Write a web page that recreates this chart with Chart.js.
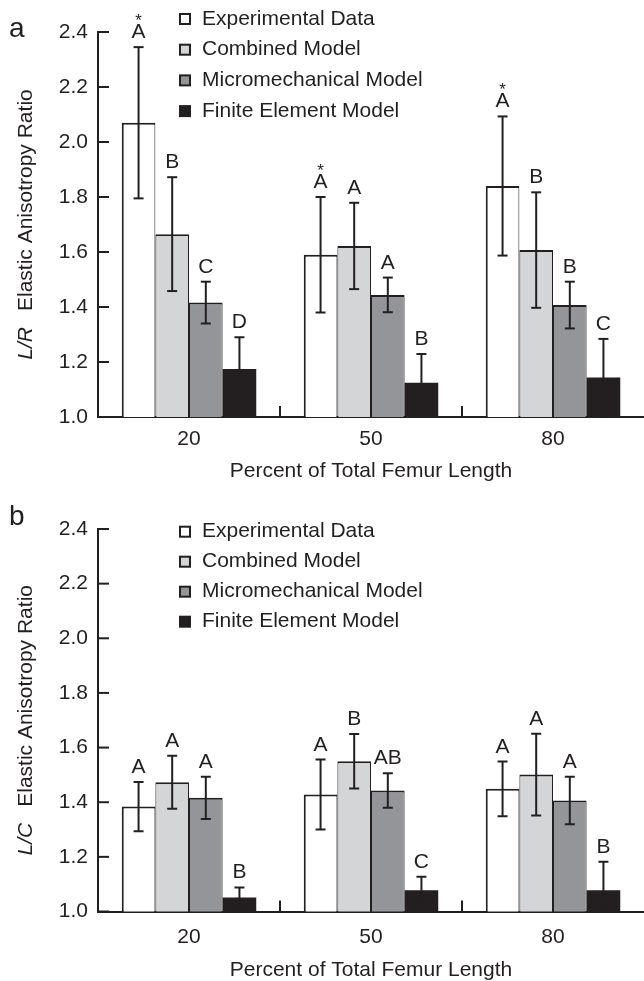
<!DOCTYPE html>
<html lang="en">
<head>
  <meta charset="UTF-8" />
  <title>Elastic Anisotropy Ratio by Femur Location</title>
  <script src="https://cdn.jsdelivr.net/npm/chart.js"></script>
  <style>
    * { margin: 0; padding: 0; box-sizing: border-box; }
    body { background: #fff; width: 644px; overflow: hidden; }
    canvas { display: block; }
  </style>
</head>
<body>
  <canvas id="chartLR" width="644" height="490"></canvas>
  <canvas id="chartLC" width="644" height="495"></canvas>

  <script>
    // ---- data ----
    const categories = ['20', '50', '80'];
    const seriesNames = ['Experimental Data', 'Combined Model', 'Micromechanical Model', 'Finite Element Model'];
    const yTickValues = [1.0, 1.2, 1.4, 1.6, 1.8, 2.0, 2.2, 2.4];

    // panel a: L/R
    const lrExperimental = [2.07, 1.59, 1.84];
    const lrExperimentalErr = [0.275, 0.21, 0.253];
    const lrCombined = [1.665, 1.622, 1.607];
    const lrCombinedErr = [0.207, 0.157, 0.21];
    const lrMicro = [1.416, 1.444, 1.407];
    const lrMicroErr = [0.076, 0.063, 0.085];
    const lrFE = [1.175, 1.125, 1.144];
    const lrFEErr = [0.115, 0.104, 0.14];
    const lrLetters = [['A', 'A', 'A'], ['B', 'A', 'B'], ['C', 'A', 'B'], ['D', 'B', 'C']];
    const lrStars = [true, true, true];

    // panel b: L/C
    const lcExperimental = [1.384, 1.428, 1.449];
    const lcExperimentalErr = [0.09, 0.128, 0.10];
    const lcCombined = [1.473, 1.55, 1.501];
    const lcCombinedErr = [0.097, 0.10, 0.15];
    const lcMicro = [1.416, 1.443, 1.406];
    const lcMicroErr = [0.077, 0.063, 0.087];
    const lcFE = [1.051, 1.078, 1.078];
    const lcFEErr = [0.037, 0.049, 0.104];
    const lcLetters = [['A', 'A', 'A'], ['A', 'B', 'A'], ['A', 'AB', 'A'], ['B', 'C', 'B']];

    // ---- styling ----
    const INK = '#231f20';
    const FONT = "'Liberation Sans', Arial, Helvetica, sans-serif";
    const FS = 21;
    const fills = ['#ffffff', '#d4d5d7', '#939598', INK];
    const borders = [
      { top: 2, left: 2, right: 1, bottom: 0 },
      { top: 2, left: 1, right: 1, bottom: 0 },
      { top: 2, left: 1, right: 1, bottom: 0 },
      0
    ];

    // error bars, significance letters, inward ticks, legend, axis title, panel letter
    const figurePlugin = {
      id: 'figure',
      afterDatasetsDraw(chart, args, opts) {
        const { ctx, chartArea: area, scales: { x, y } } = chart;
        const line = (x1, y1, x2, y2) => {
          ctx.beginPath(); ctx.moveTo(x1, y1); ctx.lineTo(x2, y2); ctx.stroke();
        };
        ctx.save();
        ctx.strokeStyle = INK;
        ctx.fillStyle = INK;
        ctx.lineWidth = 2;

        // error bars are cut at the axis
        ctx.save();
        ctx.beginPath();
        ctx.rect(area.left, 0, area.right - area.left, area.bottom);
        ctx.clip();
        chart.data.datasets.forEach((ds, di) => {
          chart.getDatasetMeta(di).data.forEach((bar, i) => {
            const v = ds.data[i], e = ds.errors[i];
            const yt = y.getPixelForValue(v + e);
            const yb = y.getPixelForValue(v - e);
            const cx = bar.x;
            line(cx, yt, cx, yb);
            line(cx - 5, yt, cx + 5, yt);
            line(cx - 5, yb, cx + 5, yb);

            ctx.font = `${FS}px ${FONT}`;
            ctx.textAlign = 'center';
            ctx.textBaseline = 'alphabetic';
            ctx.fillText(ds.letters[i], cx, yt - 9);
            if (ds.stars && ds.stars[i]) {
              ctx.font = `17px ${FONT}`;
              ctx.fillText('*', cx, yt - 9 - 12);
            }
          });
        });
        ctx.restore();

        // y ticks pointing into the plot
        y.ticks.forEach(t => {
          const py = y.getPixelForValue(t.value);
          line(area.left, py, area.left + 11, py);
        });
        // x separators between groups, pointing up
        for (let i = 0; i < categories.length - 1; i++) {
          const px = (x.getPixelForTick(i) + x.getPixelForTick(i + 1)) / 2;
          line(px, area.bottom, px, area.bottom - 11);
        }

        // legend
        ctx.font = `${FS}px ${FONT}`;
        ctx.textAlign = 'left';
        ctx.textBaseline = 'middle';
        chart.data.datasets.forEach((ds, di) => {
          const ly = opts.legendTop + di * opts.legendGap;
          ctx.fillStyle = INK;
          ctx.fillRect(179, ly - 6, 12, 12);
          ctx.fillStyle = ds.backgroundColor;
          ctx.fillRect(181, ly - 4, 8, 8);
          ctx.fillStyle = INK;
          ctx.fillText(ds.label, 202, ly);
        });

        // rotated y axis title with italic ratio
        const midY = (area.top + area.bottom) / 2;
        ctx.font = `italic ${FS}px ${FONT}`;
        const w1 = ctx.measureText(opts.ratio).width;
        ctx.font = `${FS}px ${FONT}`;
        const rest = 'Elastic Anisotropy Ratio';
        const w2 = ctx.measureText(rest).width;
        const gap = 16;
        const total = w1 + gap + w2;
        ctx.save();
        ctx.translate(26, midY);
        ctx.rotate(-Math.PI / 2);
        ctx.textAlign = 'left';
        ctx.font = `italic ${FS}px ${FONT}`;
        ctx.fillText(opts.ratio, -total / 2, 0);
        ctx.font = `${FS}px ${FONT}`;
        ctx.fillText(rest, -total / 2 + w1 + gap, 0);
        ctx.restore();

        // panel letter
        ctx.font = `28px ${FONT}`;
        ctx.textAlign = 'left';
        ctx.textBaseline = 'alphabetic';
        ctx.fillText(opts.panel, 9, opts.panelBaseline);
        ctx.restore();
      }
    };

    function makeDatasets(values, errs, letters, stars) {
      return values.map((vals, k) => ({
        label: seriesNames[k],
        data: vals,
        errors: errs[k],
        letters: letters[k],
        stars: k === 0 ? stars : null,
        backgroundColor: fills[k],
        borderColor: INK,
        borderWidth: borders[k],
        borderSkipped: false,
        barPercentage: 1,
        categoryPercentage: 0.739
      }));
    }

    function makeChart(id, cfg) {
      return new Chart(document.getElementById(id), {
        type: 'bar',
        data: { labels: categories, datasets: cfg.datasets },
        plugins: [figurePlugin],
        options: {
          responsive: false,
          animation: false,
          layout: { padding: { top: cfg.top, right: 0, left: 0, bottom: 0 } },
          plugins: {
            legend: { display: false },
            tooltip: { enabled: false },
            figure: cfg.figure
          },
          scales: {
            x: {
              z: 1,
              grid: { display: false, drawTicks: false },
              border: { display: true, color: INK, width: 2 },
              ticks: { color: INK, font: { family: FONT, size: FS }, padding: cfg.xPad },
              title: {
                display: true,
                text: 'Percent of Total Femur Length',
                color: INK,
                font: { family: FONT, size: FS },
                padding: { top: 0, bottom: cfg.titlePad }
              },
              afterFit: s => { s.height = cfg.xHeight; }
            },
            y: {
              min: yTickValues[0],
              max: yTickValues[yTickValues.length - 1],
              grid: { display: false, drawTicks: false },
              border: { display: true, color: INK, width: 2 },
              afterBuildTicks: s => { s.ticks = yTickValues.map(v => ({ value: v })); },
              ticks: {
                color: INK,
                font: { family: FONT, size: FS },
                padding: 10,
                callback: v => Number(v).toFixed(1)
              },
              afterFit: s => { s.width = 98; }
            }
          }
        }
      });
    }

    makeChart('chartLR', {
      top: 32,
      xHeight: 73,
      xPad: 10,
      titlePad: 6,
      datasets: makeDatasets(
        [lrExperimental, lrCombined, lrMicro, lrFE],
        [lrExperimentalErr, lrCombinedErr, lrMicroErr, lrFEErr],
        lrLetters, lrStars),
      figure: { ratio: 'L/R', panel: 'a', panelBaseline: 37, legendTop: 19, legendGap: 30.7 }
    });

    makeChart('chartLC', {
      top: 39,
      xHeight: 73.5,
      xPad: 13,
      titlePad: 2,
      datasets: makeDatasets(
        [lcExperimental, lcCombined, lcMicro, lcFE],
        [lcExperimentalErr, lcCombinedErr, lcMicroErr, lcFEErr],
        lcLetters, null),
      figure: { ratio: 'L/C', panel: 'b', panelBaseline: 35, legendTop: 41.7, legendGap: 30 }
    });
  </script>
</body>
</html>
